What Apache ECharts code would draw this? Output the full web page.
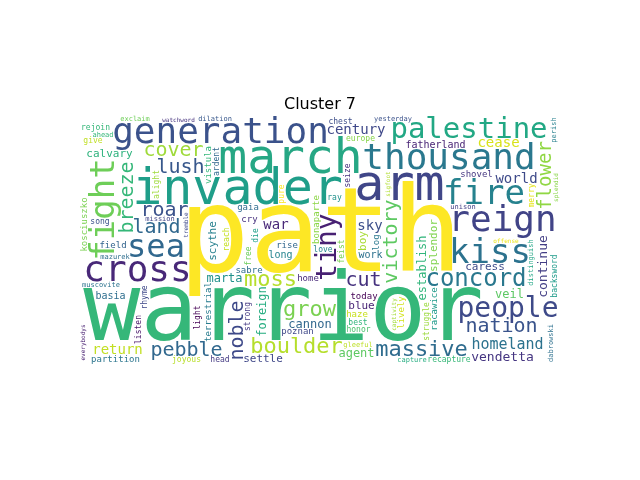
<!DOCTYPE html>
<html><head><meta charset="utf-8">
<script src="https://cdn.jsdelivr.net/npm/echarts@6/dist/echarts.min.js"></script>
<style>html,body{margin:0;background:#fff}#main{width:640px;height:480px}</style>
</head><body><div id="main"></div>
<script>
// word cloud data
var words = ['path','warrior','invader','march','arm','generation','thousand','reign','palestine','cross','kiss','fight','fire','sea','people','concord','tiny','victory','boulder','moss','grow','massive','flower','noble','breeze','land','pebble','lush','cover','nation','cut','roar','continue','splendor','establish','homeland','vendetta','century','fatherland','foreign','return','world','war','cease','cannon','sky','marta','settle','veil','calvary','caress','partition','agent','bonaparte','scythe','sabre','yesterday','poznan','terrestrial','boy','blue','today','work','long','basia','racawice','kosciuszko','shovel','gleeful','dilation','mission','muscovite','home','haze','feist','rise','honor','exclaim','vistula','struggle','rejoin','field','cry','chest','log','lively','backsword','gaia','europe','strong','distinguish','unison','seize','light','ardent','alight','offense','love','free','joyous','best','dabrowski','song','die','rhyme','listen','mazurek','captivity','merry','splendid','recapture','capture','give','head','reach','pure','sigfoot','watchword','ray','everybodys','tremble','perish','ahead','determination','czarniecki'];
var sizes = [118,112,50,48,50,36,36,36,34,36,34,34,34,32,28,24,28,24,22,22,22,22,22,20,20,20,20,20,20,20,20,20,18,18,16,15,15,14,14,14,14,14,14,14,12,14,12,11,12,11,11,12,12,11,11,11,11,11,11,11,11,9,10,10,10,9,10,10,9,9,8,9,9,9,8,9,8,10,9,8,11,9,9,8,9,9,10,9,8,8,9,8,8,8,8,8,8,8,8,8,8,8,8,8,8,8,8,8,8,8,8,9,8,8,8,8,8,8,8,8,8,8,8,8,8,8,8];
var colors = ['#fde725','#35b779','#1f9e89','#26a784','#404688','#3b528b','#2a788e','#414487','#22a884','#482878','#2c728e','#6ece58','#26828e','#31688e','#3e4a89','#2a788e','#482173','#5ec962','#b5de2b','#b5de2b','#7ad151','#2f6c8e','#90d743','#3e4989','#35b779','#31688e','#31688e','#38588c','#9fda3a','#3a548c','#46327e','#3b528b','#433e85','#7fd34e','#31b57b','#2c728e','#453581','#3f4889','#482475','#26ad81','#c2df23','#3e4a89','#482878','#d8e219','#31678e','#3c4f8a','#21918c','#3f4788','#5cc863','#2db27d','#3e4c8a','#2b758e','#5ec962','#8bd646','#27808e','#2e6f8e','#3b528b','#3f4889','#287c8e','#a8db34','#482475','#440154','#2d718e','#25848e','#2e6e8e','#1f9a8a','#7ad151','#453781','#bddf26','#38588c','#414487','#2c738e','#482979','#c8e020','#77d153','#31668e','#4ac16d','#6ece58','#35b779','#9bd93c','#35b779','#32648e','#46307e','#3d4e8a','#2a788e','#d2e21b','#1e9b8a','#2f6b8e','#86d549','#443983','#21a685','#424086','#46327e','#440154','#31678e','#9fda3a','#ece51b','#25848e','#6ccd5a','#b8de29','#31b57b','#2d708e','#3b528b','#1f9f88','#3f4889','#481668','#2e6e8e','#a2da37','#e5e419','#89d548','#37b878','#26ad81','#c0df25','#443a83','#c5e021','#fde725','#b0dd2f','#46327e','#21918c','#482071','#3e4989','#27808e','#35b779','#2a788e','#6ece58','#3b528b'];
var vertical = [0,0,0,0,0,0,0,0,0,0,0,1,0,0,0,0,1,1,0,0,0,0,1,1,1,0,0,0,0,0,0,0,1,1,1,0,0,0,0,1,0,0,0,0,0,0,0,0,0,0,0,0,0,1,1,0,0,0,1,1,0,0,0,0,0,1,1,0,0,0,0,0,0,0,1,0,0,0,1,1,0,0,0,0,1,1,1,0,0,1,1,0,1,1,1,1,0,0,1,0,0,1,0,1,1,1,0,1,1,1,0,0,0,0,1,1,1,0,0,1,1,1,0,0,1,0];

var FONT = '"DejaVu Sans Mono", monospace';
var W = 480, H = 250, X0 = 80, Y0 = 115;
var occ = new Uint8Array(W * H);
var N = Math.min(words.length, sizes.length, colors.length, vertical.length);

function textMask(word, size, vert) {
  var c = document.createElement('canvas');
  var m = c.getContext('2d');
  m.font = size + 'px ' + FONT;
  var tw = Math.ceil(m.measureText(word).width) + 2, th = Math.ceil(size * 1.05);
  var cw = vert ? th : tw, ch = vert ? tw : th;
  c.width = cw; c.height = ch;
  m.font = size + 'px ' + FONT;
  m.textAlign = 'center'; m.textBaseline = 'middle';
  m.translate(cw / 2, ch / 2);
  if (vert) m.rotate(-Math.PI / 2);
  m.fillText(word, 0, 0);
  var d = m.getImageData(0, 0, cw, ch).data, pts = [];
  for (var y = 0; y < ch; y++) for (var x = 0; x < cw; x++) if (d[(y * cw + x) * 4 + 3] > 20) pts.push(x, y);
  return {w: cw, h: ch, pts: pts};
}

function fits(mk, ox, oy) {
  if (ox < 0 || oy < 0 || ox + mk.w > W || oy + mk.h > H) return false;
  for (var i = 0; i < mk.pts.length; i += 2) {
    if (occ[(oy + mk.pts[i + 1]) * W + ox + mk.pts[i]]) return false;
  }
  return true;
}
function mark(mk, ox, oy) {
  for (var i = 0; i < mk.pts.length; i += 2) {
    var x = ox + mk.pts[i], y = oy + mk.pts[i + 1];
    for (var dy = -1; dy <= 1; dy++) for (var dx = -1; dx <= 1; dx++) {
      var xx = x + dx, yy = y + dy;
      if (xx >= 0 && yy >= 0 && xx < W && yy < H) occ[yy * W + xx] = 1;
    }
  }
}

var elements = [];
for (var k = 0; k < N; k++) {
  var word = words[k], size = sizes[k], vert = !!vertical[k];
  for (var attempt = 0; attempt < 6; attempt++) {
    var mk = textMask(word, size, vert), placed = false;
    for (var t = 0; t < 300; t += 0.05) {
      var r = 1.2 * t;
      if (r > W) break;
      var cx = W / 2 + 1.9 * r * Math.cos(t), cy = H / 2 + r * Math.sin(t);
      var ox = Math.round(cx - mk.w / 2), oy = Math.round(cy - mk.h / 2);
      if (fits(mk, ox, oy)) {
        mark(mk, ox, oy);
        elements.push({
          type: 'text', x: X0 + ox + mk.w / 2, y: Y0 + oy + mk.h / 2,
          rotation: vert ? Math.PI / 2 : 0,
          style: {text: word, fill: colors[k], font: size + 'px ' + FONT, align: 'center', verticalAlign: 'middle'}
        });
        placed = true; break;
      }
    }
    if (placed) break;
    size = Math.max(6, Math.round(size * 0.85));
  }
}

var chart = echarts.init(document.getElementById('main'));
chart.setOption({
  backgroundColor: '#fff',
  title: {text: 'Cluster 7', left: 'center', top: 92, textStyle: {fontFamily: 'DejaVu Sans', fontSize: 16, fontWeight: 'normal', color: '#000'}},
  graphic: elements
});
</script></body></html>
